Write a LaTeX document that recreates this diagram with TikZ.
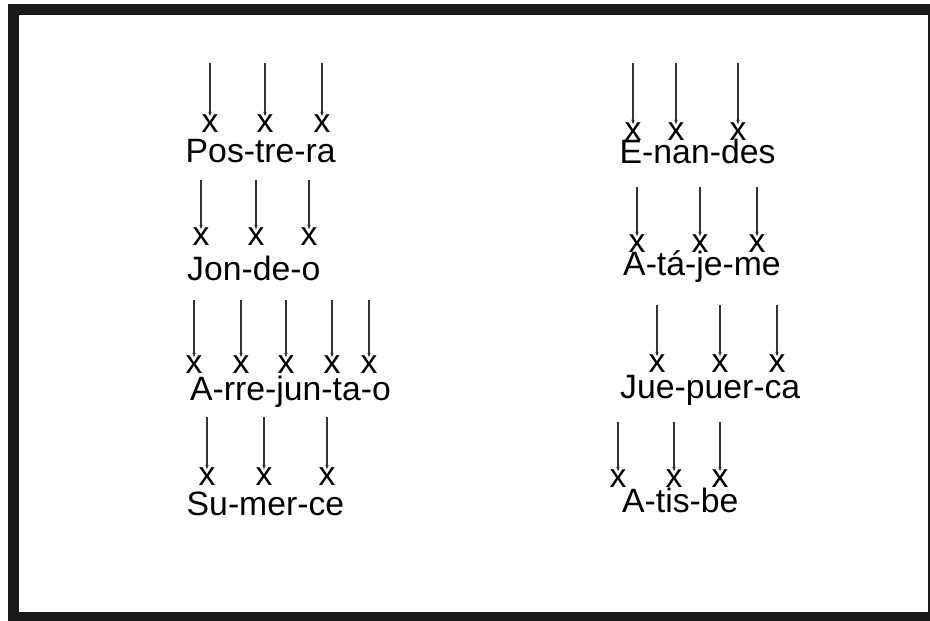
\documentclass[tikz,border=0pt]{standalone}
\usepackage{fontspec}
\setmainfont{Liberation Sans}
\usetikzlibrary{arrows.meta}
\definecolor{framegray}{HTML}{1A1A1A}
\definecolor{stemgray}{HTML}{333333}
\begin{document}
\begin{tikzpicture}[x=0.03cm,y=-0.03cm,
    syll/.style={anchor=base west,inner sep=0pt,font=\fontsize{28.8}{31}\selectfont},
    stress/.style={draw=stemgray,line width=1.1pt,-{Stealth[length=4pt,width=3pt]},shorten >=-2pt}]
    \useasboundingbox (0,0) rectangle (930,621);
    \draw[framegray,line width=0.33cm] (13.5,9.5) rectangle (933.5,617.5);
    % words
    \node[syll] (pos) at (185.5,162) {Pos-tre-ra};
    \node[syll] (jon) at (187,280) {Jon-de-o};
    \node[syll] (arre) at (190,400) {A-rre-jun-ta-o};
    \node[syll] (sum) at (186.5,515) {Su-mer-ce};
    \node[syll] (enan) at (619.5,163) {E-nan-des};
    \node[syll] (atak) at (623,275) {A-tá-je-me};
    \node[syll] (jue) at (620,398) {Jue-puer-ca};
    \node[syll] (atis) at (622,512) {A-tis-be};
    % stress marks
    \begin{scope}[every node/.style={anchor=base,inner sep=0pt,font=\fontsize{28.8}{31}\selectfont}]
        \node (p1) at (210,132) {x}; \coordinate (p1t) at (210,63);
        \node (p2) at (265,132) {x}; \coordinate (p2t) at (265,63);
        \node (p3) at (322,132) {x}; \coordinate (p3t) at (322,63);
        \node (j1) at (201,245) {x}; \coordinate (j1t) at (201,180);
        \node (j2) at (256,245) {x}; \coordinate (j2t) at (256,180);
        \node (j3) at (309,245) {x}; \coordinate (j3t) at (309,180);
        \node (a1) at (194,373) {x}; \coordinate (a1t) at (194,300);
        \node (a2) at (241,373) {x}; \coordinate (a2t) at (241,300);
        \node (a3) at (286,373) {x}; \coordinate (a3t) at (286,300);
        \node (a4) at (332,373) {x}; \coordinate (a4t) at (332,300);
        \node (a5) at (369,373) {x}; \coordinate (a5t) at (369,300);
        \node (s1) at (207,485) {x}; \coordinate (s1t) at (207,417);
        \node (s2) at (264,485) {x}; \coordinate (s2t) at (264,417);
        \node (s3) at (327,485) {x}; \coordinate (s3t) at (327,417);
        \node (e1) at (633,140) {x}; \coordinate (e1t) at (633,63);
        \node (e2) at (676,140) {x}; \coordinate (e2t) at (676,63);
        \node (e3) at (738,140) {x}; \coordinate (e3t) at (738,63);
        \node (t1) at (637,252) {x}; \coordinate (t1t) at (637,187);
        \node (t2) at (700,252) {x}; \coordinate (t2t) at (700,187);
        \node (t3) at (757,252) {x}; \coordinate (t3t) at (757,187);
        \node (u1) at (657,372) {x}; \coordinate (u1t) at (657,305);
        \node (u2) at (720,372) {x}; \coordinate (u2t) at (720,305);
        \node (u3) at (777,372) {x}; \coordinate (u3t) at (777,305);
        \node (b1) at (618,487) {x}; \coordinate (b1t) at (618,422);
        \node (b2) at (674,487) {x}; \coordinate (b2t) at (674,422);
        \node (b3) at (720,487) {x}; \coordinate (b3t) at (720,422);
    \end{scope}
    \begin{scope}[every edge/.style={stress}]
        \path
            (p1t) edge (p1) (p2t) edge (p2) (p3t) edge (p3)
            (j1t) edge (j1) (j2t) edge (j2) (j3t) edge (j3)
            (a1t) edge (a1) (a2t) edge (a2) (a3t) edge (a3) (a4t) edge (a4) (a5t) edge (a5)
            (s1t) edge (s1) (s2t) edge (s2) (s3t) edge (s3)
            (e1t) edge (e1) (e2t) edge (e2) (e3t) edge (e3)
            (t1t) edge (t1) (t2t) edge (t2) (t3t) edge (t3)
            (u1t) edge (u1) (u2t) edge (u2) (u3t) edge (u3)
            (b1t) edge (b1) (b2t) edge (b2) (b3t) edge (b3);
    \end{scope}
\end{tikzpicture}
\end{document}
